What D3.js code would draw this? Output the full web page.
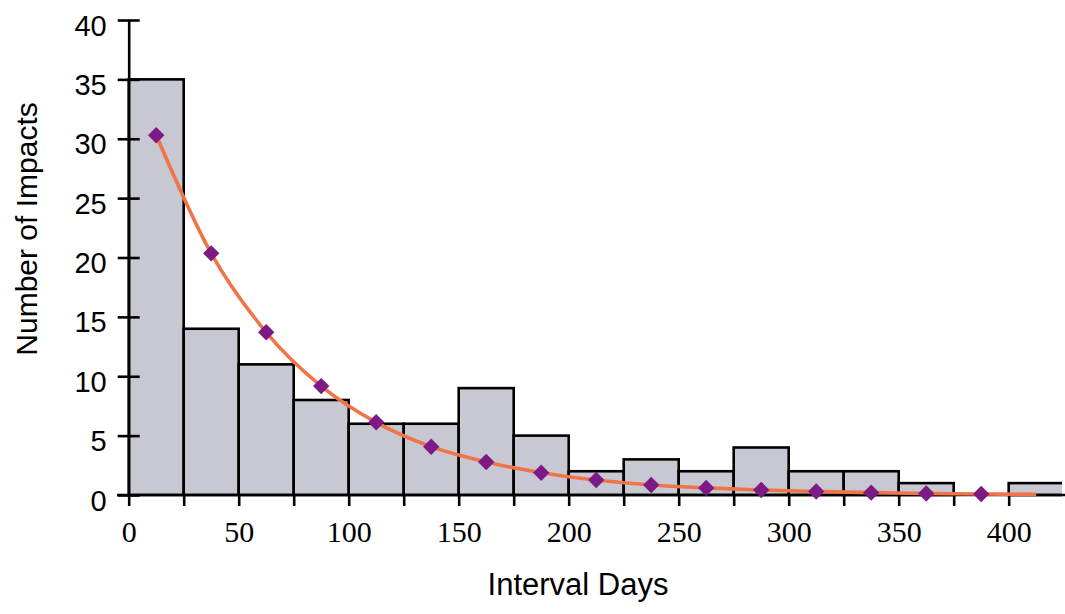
<!DOCTYPE html>
<html>
<head>
<meta charset="utf-8">
<script src="https://cdn.jsdelivr.net/npm/d3@7"></script>
<style>
  html, body { margin: 0; padding: 0; background: #ffffff; }
  svg { display: block; }
</style>
</head>
<body>
<svg id="chart" width="1065" height="614"></svg>
<script>
// Histogram bins (start of interval, days) and counts
const binStarts = [0, 25, 50, 75, 100, 125, 150, 175, 200, 225, 250, 275, 300, 325, 350, 375, 400];
const binWidth = 25;
const counts = [35, 14, 11, 8, 6, 6, 9, 5, 2, 3, 2, 4, 2, 2, 1, 0, 1];

// Fitted curve points (bin centres) and fitted values
const fitDays = [12.5, 37.5, 62.5, 87.5, 112.5, 137.5, 162.5, 187.5, 212.5, 237.5, 262.5, 287.5, 312.5, 337.5, 362.5, 387.5];
const fitValues = [30.3, 20.35, 13.7, 9.17, 6.12, 4.07, 2.78, 1.88, 1.26, 0.84, 0.6, 0.42, 0.3, 0.2, 0.13, 0.09];
// the curve continues a little past the last marker
const curveEndDay = 412.5;
const curveEndValue = 0.06;

const xTicks = [0, 25, 50, 75, 100, 125, 150, 175, 200, 225, 250, 275, 300, 325, 350, 375, 400];
const xTickLabels = [0, 50, 100, 150, 200, 250, 300, 350, 400];
const yTicks = [0, 5, 10, 15, 20, 25, 30, 35, 40];

const svg = d3.select("#chart");

const x = d3.scaleLinear().domain([0, 425]).range([128.7, 1063.7]);
const y = d3.scaleLinear().domain([0, 40]).range([495, 20]);

svg.append("clipPath").attr("id", "plotclip")
  .append("rect").attr("x", 0).attr("y", 0).attr("width", 1062).attr("height", 614);

// Bars
svg.append("g").attr("clip-path", "url(#plotclip)")
  .selectAll("rect.bar")
  .data(binStarts.map((s, i) => ({ s, c: counts[i] })).filter(d => d.c > 0))
  .join("rect")
  .attr("class", "bar")
  .attr("x", d => x(d.s))
  .attr("y", d => y(d.c))
  .attr("width", d => x(d.s + binWidth) - x(d.s))
  .attr("height", d => y(0) - y(d.c))
  .attr("fill", "#c7c8d2")
  .attr("stroke", "#000")
  .attr("stroke-width", 2.6);

// X axis
const xAxis = d3.axisBottom(x)
  .tickValues(xTicks)
  .tickSize(11)
  .tickSizeOuter(0)
  .tickFormat(d => xTickLabels.includes(d) ? d : "");
const gx = svg.append("g").attr("transform", `translate(0,${y(0)})`).call(xAxis);
gx.select(".domain").attr("d", `M117,0H1065`).attr("stroke", "#000").attr("stroke-width", 2.6);
gx.selectAll(".tick line").attr("stroke", "#000").attr("stroke-width", 2.6);
gx.selectAll(".tick text")
  .attr("y", 47).attr("dy", 0)
  .attr("fill", "#000")
  .style("font-family", "'Liberation Serif', 'Times New Roman', serif")
  .style("font-size", "30px");

// Y axis
const yAxis = d3.axisLeft(y)
  .tickValues(yTicks)
  .tickSize(11)
  .tickSizeOuter(0)
  .tickFormat(d3.format("d"));
const gy = svg.append("g").attr("transform", `translate(${x(0)},0)`).call(yAxis);
gy.select(".domain").attr("stroke", "#000").attr("stroke-width", 2.6);
gy.selectAll(".tick line").attr("x2", 11).attr("x1", -11).attr("stroke", "#000").attr("stroke-width", 2.6);
gy.selectAll(".tick text")
  .attr("x", -22).attr("dy", 0).attr("y", 15)
  .attr("fill", "#000")
  .style("font-family", "'Liberation Sans', Arial, sans-serif")
  .style("font-size", "29px");

// Fitted curve
const curvePts = fitDays.map((d, i) => [d, fitValues[i]]).concat([[curveEndDay, curveEndValue]]);
const line = d3.line().x(d => x(d[0])).y(d => y(d[1])).curve(d3.curveMonotoneX);
svg.append("path")
  .datum(curvePts)
  .attr("d", line)
  .attr("fill", "none")
  .attr("stroke", "#f07448")
  .attr("stroke-width", 3.6);

// Markers (diamonds)
svg.append("g").selectAll("path.mk")
  .data(fitDays.map((d, i) => [d, fitValues[i]]))
  .join("path")
  .attr("class", "mk")
  .attr("transform", d => `translate(${x(d[0])},${y(d[1])}) rotate(45)`)
  .attr("d", d3.symbol().type(d3.symbolSquare).size(135))
  .attr("fill", "#7d1a86");

// Axis titles
svg.append("text")
  .attr("x", 578).attr("y", 595)
  .attr("text-anchor", "middle")
  .style("font-family", "'Liberation Sans', Arial, sans-serif")
  .style("font-size", "31px")
  .attr("fill", "#000")
  .text("Interval Days");

svg.append("text")
  .attr("transform", "translate(37,229) rotate(-90)")
  .attr("text-anchor", "middle")
  .style("font-family", "'Liberation Sans', Arial, sans-serif")
  .style("font-size", "30px")
  .attr("fill", "#000")
  .text("Number of Impacts");
</script>
</body>
</html>
